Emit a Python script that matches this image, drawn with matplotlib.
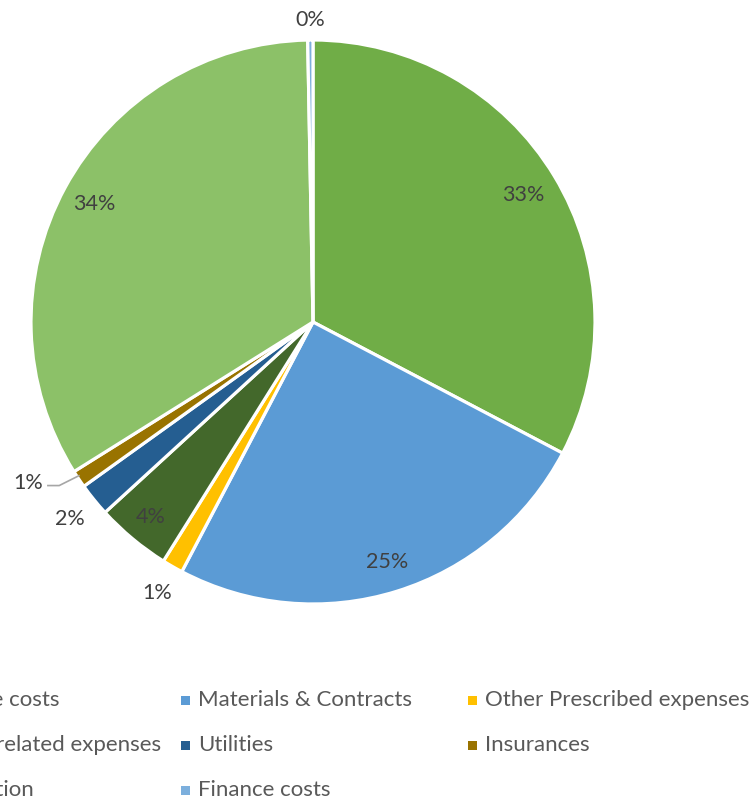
import numpy as np
import matplotlib.pyplot as plt
from matplotlib.patches import Rectangle

# Expense breakdown (share of total, %)
categories = ["Employee costs", "Materials & Contracts", "Other Prescribed expenses",
              "Member related expenses", "Utilities", "Insurances",
              "Depreciation", "Finance costs"]
shares = [32.7, 25.0, 1.2, 4.3, 1.9, 1.0, 33.6, 0.3]
colors = ["#70AD47", "#5B9BD5", "#FFC000", "#43682B", "#255E91", "#997300",
          "#8CC168", "#7CAFDD"]
# label radius (fraction of pie radius) for each slice
label_r = [0.87, 0.89, 1.11, 0.90, 1.11, 1.17, 0.88, 1.07]

plt.rcParams["font.family"] = ["Lato", "DejaVu Sans"]

W, H = 750, 805
fig = plt.figure(figsize=(W / 100, H / 100), dpi=100)
cx, cy, R = 313, 322, 282
ax = fig.add_axes([(cx - R) / W, 1 - (cy + R) / H, 2 * R / W, 2 * R / H])

wedges, _ = ax.pie(shares, colors=colors, startangle=90, counterclock=False,
                   radius=1, wedgeprops=dict(edgecolor="white", linewidth=2.3))
ax.set_xlim(-1, 1)
ax.set_ylim(-1, 1)
ax.set_aspect("equal")
ax.axis("off")

# percentage labels at slice mid angles
cum = np.cumsum([0] + shares)
for i, s in enumerate(shares):
    mid = 90 - 360 * (cum[i] + s / 2) / 100
    r = label_r[i]
    x, y = r * np.cos(np.radians(mid)), r * np.sin(np.radians(mid))
    if categories[i] == "Insurances":
        x, y = -1.01, -0.57
        ax.plot([-0.94, -0.90, -0.83], [-0.58, -0.58, -0.545], color="#A6A6A6",
                lw=1.2, clip_on=False)
    ax.text(x, y, f"{s:.0f}%", ha="center", va="center", fontsize=15.5,
            color="#404040", clip_on=False)

# legend laid out on a fixed grid, three columns
col_x = [-93, 198, 485]
row_y = [700, 745, 790]
for i, (name, c) in enumerate(zip(categories, colors)):
    row, col = divmod(i, 3)
    tx, ty = col_x[col], row_y[row]
    fig.patches.append(Rectangle(((tx - 17) / W, 1 - (ty + 5) / H), 9 / W, 9 / H,
                                 transform=fig.transFigure, facecolor=c,
                                 edgecolor="none"))
    fig.text(tx / W, 1 - ty / H, name, ha="left", va="center", fontsize=16,
             color="#595959")

fig.savefig("out.png", dpi=100)
